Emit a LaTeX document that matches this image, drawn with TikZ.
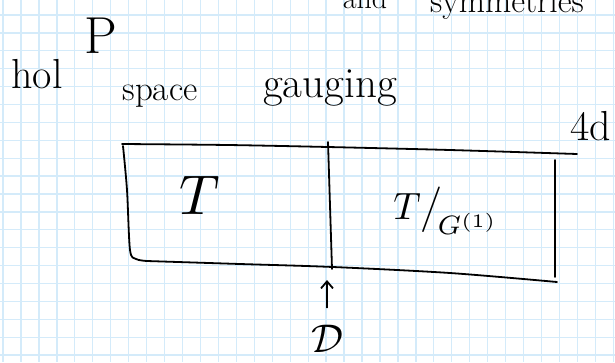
\documentclass[tikz,border=0pt]{standalone}
\usetikzlibrary{arrows.meta}
\definecolor{gridblue}{RGB}{212,235,250}
\begin{document}
\begin{tikzpicture}[x=1pt, y=-1pt,
    pen/.style={line width=1.8pt, line cap=round, line join=round},
    hand/.style={inner sep=0pt, font=\fontsize{#1}{#1}\selectfont},
    sym/.style={inner sep=0pt, scale=#1},
    gridline/.style={draw=gridblue, line width=1.3pt}
]
    \fill[white] (0,0) rectangle (615,362);
    \useasboundingbox (0,0) rectangle (615,362);
    \clip (0,0) rectangle (615,362);
    \foreach \i in {0,...,34} \draw[gridline] (3+17.95*\i,0) -- (3+17.95*\i,362);
    \foreach \j in {0,...,19} \draw[gridline] (0,15+17.9*\j) -- (615,15+17.9*\j);

    % words above the box
    \node[hand=42] (hol) at (37,74) {hol};
    \node[hand=52] (p) at (101,36) {P};
    \node[hand=35, anchor=base] (space) at (160,100) {space};
    \node[hand=43, anchor=base] (gauging) at (330,97) {gauging};
    \node[hand=30, anchor=base] (and) at (365,8) {and};
    \node[hand=34, anchor=base west] (symm) at (430,12) {symmetries};
    \node[hand=42] (dim) at (591,126) {4d};

    % the box
    \draw[pen] plot[smooth] coordinates {(122,144) (228,145) (328,147) (450,150) (577,154)};
    \draw[pen] plot[smooth] coordinates {(123,146) (127,190) (130,250) (136,259) (147,261)};
    \draw[pen] plot[smooth] coordinates {(147,261) (240,264) (333,267) (450,273) (557,282)};
    \draw[pen] (555,160) -- (555,277);
    \draw[pen] (328,142) -- (332,269);

    \node[sym=5.6] (t) at (200,195) {$T$};
    \node[sym=3.8] (tg) at (446,211) {$T\big/_{\!G^{(1)}}$};

    \node[sym=4] (d) at (327,339) {$\mathcal{D}$};
    \coordinate (tip) at (327,280);
    \draw[pen, -{Straight Barb[length=7pt,width=12pt]}, shorten <=17pt] (d) -- (tip);
\end{tikzpicture}
\end{document}
